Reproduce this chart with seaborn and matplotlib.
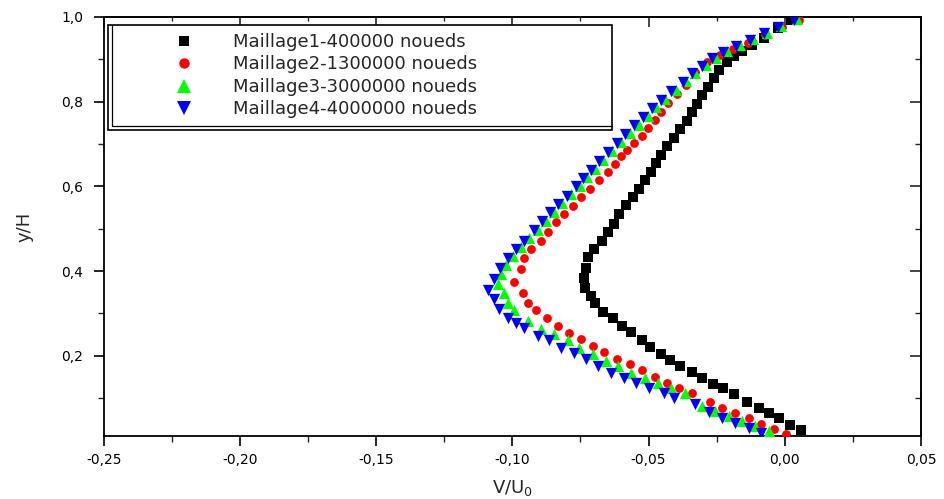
import matplotlib
matplotlib.use("Agg")
import matplotlib.pyplot as plt
from matplotlib.patches import Rectangle
from matplotlib.lines import Line2D
from matplotlib.ticker import FixedLocator, MultipleLocator
import pandas as pd
import seaborn as sns

# Vertical velocity profiles V/U0 along y/H for four mesh densities
labels = ["Maillage1-400000 noueds", "Maillage2-1300000 noueds",
          "Maillage3-3000000 noueds", "Maillage4-4000000 noueds"]

x1 = [0.0022, -0.0026, -0.0077, -0.0121, -0.0158, -0.0188, -0.0213, -0.0243, -0.0261, -0.0283,
      -0.0305, -0.0324, -0.0342, -0.0360, -0.0383, -0.0405, -0.0431, -0.0453, -0.0471, -0.0490,
      -0.0515, -0.0537, -0.0559, -0.0582, -0.0607, -0.0626, -0.0648, -0.0670, -0.0699, -0.0721,
      -0.0729, -0.0736, -0.0732, -0.0710, -0.0696, -0.0666, -0.0629, -0.0596, -0.0563, -0.0526,
      -0.0493, -0.0456, -0.0420, -0.0383, -0.0342, -0.0305, -0.0265, -0.0228, -0.0188, -0.0140,
      -0.0096, -0.0059, -0.0022, 0.0018, 0.0059]
y1 = [0.993, 0.974, 0.950, 0.933, 0.919, 0.907, 0.893, 0.875, 0.856, 0.834,
      0.815, 0.794, 0.775, 0.754, 0.735, 0.714, 0.695, 0.673, 0.654, 0.635,
      0.614, 0.593, 0.574, 0.555, 0.534, 0.512, 0.493, 0.472, 0.453, 0.432,
      0.406, 0.383, 0.359, 0.342, 0.325, 0.304, 0.288, 0.271, 0.255, 0.238,
      0.221, 0.205, 0.190, 0.176, 0.162, 0.148, 0.134, 0.124, 0.110, 0.091,
      0.077, 0.065, 0.053, 0.037, 0.025]

x2 = [0.0052, -0.0011, -0.0074, -0.0136, -0.0191, -0.0239, -0.0287, -0.0331, -0.0361, -0.0394,
      -0.0427, -0.0453, -0.0478, -0.0501, -0.0526, -0.0552, -0.0578, -0.0600, -0.0622, -0.0648,
      -0.0681, -0.0714, -0.0747, -0.0777, -0.0810, -0.0839, -0.0869, -0.0894, -0.0931, -0.0957,
      -0.0968, -0.0994, -0.0961, -0.0942, -0.0913, -0.0872, -0.0832, -0.0791, -0.0747, -0.0703,
      -0.0662, -0.0615, -0.0570, -0.0526, -0.0478, -0.0431, -0.0390, -0.0342, -0.0276, -0.0232,
      -0.0184, -0.0132, -0.0088, -0.0040, 0.0004]
y2 = [0.993, 0.976, 0.957, 0.938, 0.924, 0.910, 0.893, 0.870, 0.839, 0.818,
      0.796, 0.775, 0.756, 0.737, 0.718, 0.702, 0.685, 0.671, 0.652, 0.633,
      0.614, 0.593, 0.574, 0.553, 0.534, 0.515, 0.491, 0.472, 0.453, 0.430,
      0.404, 0.373, 0.349, 0.325, 0.307, 0.290, 0.271, 0.254, 0.240, 0.224,
      0.209, 0.193, 0.181, 0.165, 0.150, 0.136, 0.124, 0.112, 0.091, 0.077,
      0.065, 0.053, 0.039, 0.027, 0.015]

x3 = [0.0044, -0.0015, -0.0066, -0.0118, -0.0166, -0.0213, -0.0254, -0.0291, -0.0328, -0.0361,
      -0.0401, -0.0438, -0.0471, -0.0504, -0.0537, -0.0570, -0.0600, -0.0633, -0.0666, -0.0696,
      -0.0725, -0.0751, -0.0784, -0.0817, -0.0847, -0.0876, -0.0905, -0.0939, -0.0968, -0.0997,
      -0.1023, -0.1042, -0.1053, -0.1031, -0.1016, -0.0994, -0.0942, -0.0894, -0.0847, -0.0795,
      -0.0755, -0.0703, -0.0655, -0.0611, -0.0563, -0.0515, -0.0464, -0.0416, -0.0368, -0.0305,
      -0.0258, -0.0206, -0.0158, -0.0110, -0.0059]
y3 = [0.995, 0.979, 0.962, 0.948, 0.934, 0.919, 0.903, 0.886, 0.868, 0.849,
      0.828, 0.806, 0.787, 0.765, 0.746, 0.726, 0.704, 0.683, 0.662, 0.641,
      0.621, 0.600, 0.581, 0.560, 0.540, 0.519, 0.498, 0.478, 0.456, 0.435,
      0.414, 0.392, 0.370, 0.347, 0.325, 0.307, 0.283, 0.264, 0.252, 0.236,
      0.219, 0.205, 0.188, 0.176, 0.160, 0.148, 0.136, 0.124, 0.112, 0.082,
      0.070, 0.058, 0.046, 0.034, 0.022]

x4 = [0.0033, -0.0026, -0.0077, -0.0129, -0.0180, -0.0228, -0.0269, -0.0305, -0.0342, -0.0375,
      -0.0416, -0.0453, -0.0486, -0.0519, -0.0552, -0.0585, -0.0615, -0.0648, -0.0681, -0.0710,
      -0.0740, -0.0766, -0.0799, -0.0832, -0.0861, -0.0891, -0.0920, -0.0957, -0.0986, -0.1016,
      -0.1045, -0.1067, -0.1089, -0.1067, -0.1049, -0.1016, -0.0986, -0.0957, -0.0905, -0.0865,
      -0.0821, -0.0773, -0.0729, -0.0685, -0.0637, -0.0589, -0.0545, -0.0497, -0.0445, -0.0405,
      -0.0331, -0.0280, -0.0232, -0.0184, -0.0132, -0.0088]
y4 = [0.993, 0.976, 0.962, 0.946, 0.931, 0.917, 0.903, 0.884, 0.868, 0.846,
      0.825, 0.804, 0.785, 0.764, 0.744, 0.723, 0.702, 0.680, 0.659, 0.638,
      0.619, 0.600, 0.578, 0.559, 0.540, 0.518, 0.497, 0.472, 0.453, 0.430,
      0.408, 0.382, 0.354, 0.335, 0.311, 0.290, 0.278, 0.266, 0.247, 0.236,
      0.219, 0.207, 0.193, 0.176, 0.160, 0.148, 0.136, 0.124, 0.112, 0.101,
      0.086, 0.067, 0.053, 0.041, 0.030, 0.018]

xticks = [-0.25, -0.20, -0.15, -0.10, -0.05, 0.00, 0.05]
yticks = [0.2, 0.4, 0.6, 0.8, 1.0]

colors = ["#000000", "#ff0000", "#00ff00", "#0000ff"]
markers = ["s", "o", "^", "v"]
sizes = [50, 40, 66, 66]

sns.set_style("ticks")
plt.rcParams["font.family"] = ["DejaVu Sans"]

fig = plt.figure(figsize=(9.44, 4.99), dpi=100)
ax = fig.add_axes([0.110, 0.126, 0.8656, 0.840])

series = [(x1, y1), (x2, y2), (x3, y3), (x4, y4)]
for (xs, ys), c, m, s in zip(series, colors, markers, sizes):
    df = pd.DataFrame({"V/U0": xs, "y/H": ys})
    sns.scatterplot(data=df, x="V/U0", y="y/H", ax=ax, color=c, marker=m,
                    s=s, linewidth=0, legend=False, zorder=3)

ax.set_xlim(-0.25, 0.05)
ax.set_ylim(0.01, 1.0)

ax.xaxis.set_major_locator(FixedLocator(xticks))
ax.yaxis.set_major_locator(FixedLocator(yticks))
ax.xaxis.set_minor_locator(MultipleLocator(0.025))
ax.yaxis.set_minor_locator(MultipleLocator(0.1))
ax.set_xticklabels([f"{v:.2f}".replace(".", ",") for v in xticks])
ax.set_yticklabels([f"{v:.1f}".replace(".", ",") for v in yticks])

for sp in ax.spines.values():
    sp.set_linewidth(1.3)
    sp.set_color("black")

ax.tick_params(axis="both", which="major", direction="out", length=7, width=1.2,
               labelsize=10, colors="black", pad=5)
ax.tick_params(axis="both", which="minor", direction="out", length=4, width=1.0)
ax.tick_params(axis="y", which="major", pad=8)

# inward ticks on the top and right edges, mirroring the outer scales
top = ax.secondary_xaxis("top")
top.xaxis.set_major_locator(FixedLocator(xticks))
top.xaxis.set_minor_locator(MultipleLocator(0.025))
top.tick_params(which="major", direction="in", length=7, width=1.2, labeltop=False)
top.tick_params(which="minor", direction="in", length=3, width=1.0)
top.spines["top"].set_linewidth(1.3)
right = ax.secondary_yaxis("right")
right.yaxis.set_major_locator(FixedLocator(yticks))
right.yaxis.set_minor_locator(MultipleLocator(0.1))
right.tick_params(which="major", direction="in", length=8, width=1.2, labelright=False)
right.tick_params(which="minor", direction="in", length=4, width=1.0)
right.spines["right"].set_linewidth(1.3)

ax.set_xlabel("V/U$_0$", fontsize=13, labelpad=8)
ax.set_ylabel("y/H", fontsize=13, labelpad=20)

# legend
handles = [Line2D([], [], linestyle="none", marker=m, color=c, markersize=ms,
                  markeredgewidth=0)
           for m, c, ms in zip(markers, colors, [7.5, 7.5, 9.5, 9.5])]
ax.legend(handles, labels, loc="upper left", bbox_to_anchor=(0.0763, 0.962),
          frameon=False, borderpad=0, borderaxespad=0, handlelength=2.0,
          handletextpad=1.7, labelspacing=0.25, prop={"size": 13})

# legend frame with a doubled left and bottom edge
x0, x1f = (108 - 104) / 817, (612 - 104) / 817
y0, y1f = (436 - 130) / 419, (436 - 25) / 419
ax.add_patch(Rectangle((x0, y0), x1f - x0, y1f - y0, transform=ax.transAxes,
                       fill=True, facecolor="white", edgecolor="black",
                       linewidth=1.2, zorder=4))
ax.plot([x0 + 4 / 817, x0 + 4 / 817], [y0 + 4 / 419, y1f], transform=ax.transAxes,
        color="black", linewidth=0.9, zorder=5)
ax.plot([x0 + 4 / 817, x1f], [y0 + 4 / 419, y0 + 4 / 419], transform=ax.transAxes,
        color="black", linewidth=0.9, zorder=5)
ax.get_legend().set_zorder(6)

fig.savefig("out.png", dpi=100)
